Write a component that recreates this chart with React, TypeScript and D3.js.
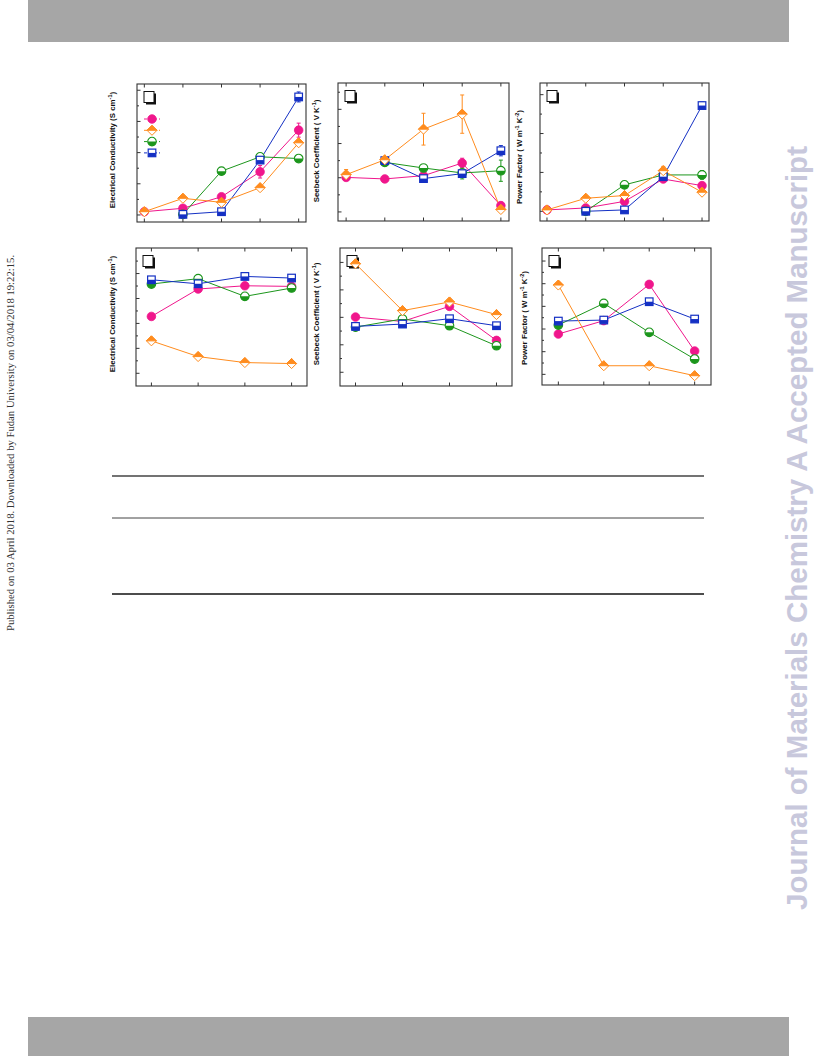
import React from 'react';
import * as d3 from 'd3';

// x categories (labels not printed in the figure)
const topCats = [1, 2, 3, 4, 5];
const bottomCats = [1, 2, 3, 4];

// (a) electrical conductivity, top row
const condTopPink = [0.21, 0.43, 1.17, 2.77, 5.44];
const condTopOrange = [0.21, 1.07, 0.81, 1.75, 4.63];
const condTopGreen = [null, 0.04, 2.81, 3.73, 3.62];
const condTopBlue = [null, 0.04, 0.21, 3.52, 7.57];
const condTopPinkErr = [0, 0, 0, 0.4, 0.45];
const condTopBlueErr = [0, 0, 0, 0.15, 0.32];

// (b) seebeck, top row
const seebTopPink = [2.02, 1.93, 2.12, 2.86, 0.37];
const seebTopOrange = [2.18, 3.05, 4.84, 5.72, 0.14];
const seebTopGreen = [null, 2.9, 2.57, 2.28, 2.41];
const seebTopBlue = [null, 3.0, 1.95, 2.24, 3.58];
const seebTopOrangeErr = [0.3, 0.12, 0.93, 1.12, 0.1];
const seebTopPinkErr = [0, 0, 0, 0.28, 0.2];
const seebTopGreenErr = [0, 0, 0, 0.35, 0.62];
const seebTopBlueErr = [0, 0, 0, 0, 0.3];

// (c) power factor, top row
const pfTopPink = [0.07, 0.17, 0.51, 1.66, 1.32];
const pfTopOrange = [0.07, 0.67, 0.81, 2.09, 0.98];
const pfTopGreen = [null, 0.0, 1.36, 1.87, 1.87];
const pfTopBlue = [null, 0.0, 0.07, 1.78, 5.44];
const pfTopOrangeErr = [0, 0, 0, 0.22, 0.1];
const pfTopGreenErr = [0, 0, 0, 0, 0.22];
const pfTopBlueErr = [0, 0, 0, 0, 0.18];

// (d) electrical conductivity, bottom row
const condBotPink = [4.56, 6.76, 7.02, 6.97];
const condBotOrange = [2.6, 1.34, 0.86, 0.78];
const condBotGreen = [7.16, 7.59, 6.17, 6.84];
const condBotBlue = [7.5, 7.18, 7.77, 7.64];

// (e) seebeck, bottom row
const seebBotPink = [4.02, 3.7, 4.8, 2.32];
const seebBotOrange = [7.9, 4.49, 5.12, 4.2];
const seebBotGreen = [3.29, 3.88, 3.39, 1.93];
const seebBotBlue = [3.34, 3.51, 3.9, 3.39];

// (f) power factor, bottom row
const pfBotPink = [3.56, 4.74, 7.94, 2.06];
const pfBotOrange = [7.88, 0.76, 0.76, -0.12];
const pfBotGreen = [4.35, 6.26, 3.71, 1.35];
const pfBotBlue = [4.7, 4.79, 6.41, 4.88];

const PINK = '#f0168c';
const ORANGE = '#ff8c1e';
const GREEN = '#1c961c';
const BLUE = '#1430c4';

type Val = number | null;
type Series = { vals: Val[]; err?: number[]; color: string; shape: string };

const Marker = ({ shape, color, x, y }: { shape: string; color: string; x: number; y: number }) => {
  if (shape === 'circle') {
    return <circle cx={x} cy={y} r={4.3} fill={color} stroke={color} strokeWidth={0.8} />;
  }
  if (shape === 'diamond') {
    const r = 5;
    return (
      <g transform={`translate(${x},${y})`}>
        <path d={`M0,${-r}L${r},0L0,${r}L${-r},0Z`} fill="#fff" stroke={color} strokeWidth={1} />
        <path d={`M${-r},0L0,${-r}L${r},0Z`} fill={color} stroke={color} strokeWidth={1} />
      </g>
    );
  }
  if (shape === 'halfcircle') {
    const r = 4.3;
    return (
      <g transform={`translate(${x},${y})`}>
        <circle r={r} fill="#fff" stroke={color} strokeWidth={1.1} />
        <path d={`M${-r},0A${r},${r} 0 0 0 ${r},0Z`} fill={color} />
      </g>
    );
  }
  const s = 3.8;
  return (
    <g transform={`translate(${x},${y})`}>
      <rect x={-s} y={-s} width={2 * s} height={2 * s} fill="#fff" stroke={color} strokeWidth={1.2} />
      <rect x={-s} y={0} width={2 * s} height={s} fill={color} />
    </g>
  );
};

type PanelProps = {
  left: number; right: number; top: number; bottom: number;
  cats: number[]; pad: number;
  yDomain: [number, number]; yTicks: number[];
  series: Series[];
  label: React.ReactNode; labelX: number; labelY: number;
  legend?: Series[];
};

const Panel = (p: PanelProps) => {
  const x = d3.scaleLinear().domain([p.cats[0] - p.pad, p.cats[p.cats.length - 1] + p.pad]).range([p.left, p.right]);
  const y = d3.scaleLinear().domain(p.yDomain).range([p.bottom, p.top]);
  const line = d3.line<Val>()
    .defined(d => d !== null)
    .x((_, i) => x(p.cats[i]))
    .y(d => y(d as number));
  return (
    <g>
      {/* y ticks, inward */}
      {p.yTicks.map((t, i) => (
        <line key={'yt' + t} x1={p.left} x2={p.left + (i % 2 === 0 ? 3.5 : 2)} y1={y(t)} y2={y(t)} stroke="#333" strokeWidth={1} />
      ))}
      {/* x ticks top & bottom, inward */}
      {p.cats.map(c => (
        <g key={'xt' + c}>
          <line x1={x(c)} x2={x(c)} y1={p.bottom} y2={p.bottom - 3.5} stroke="#333" strokeWidth={1} />
          <line x1={x(c)} x2={x(c)} y1={p.top} y2={p.top + 3.5} stroke="#333" strokeWidth={1} />
        </g>
      ))}
      <rect x={p.left} y={p.top} width={p.right - p.left} height={p.bottom - p.top} fill="none" stroke="#333" strokeWidth={1.1} />
      {/* panel letter box (letter stripped) */}
      <rect x={p.left + 9} y={p.top + 9.5} width={10} height={11} fill="#111" />
      <rect x={p.left + 7} y={p.top + 7.5} width={10} height={11} fill="#fff" stroke="#111" strokeWidth={1} />
      {p.series.map((s, si) => (
        <path key={'l' + si} d={line(s.vals) ?? ''} fill="none" stroke={s.color} strokeWidth={1} />
      ))}
      {p.series.map((s, si) =>
        s.err ? s.err.map((e, i) => {
          const v = s.vals[i];
          if (!e || v === null) return null;
          const cx = x(p.cats[i]);
          return (
            <g key={'e' + si + '-' + i} stroke={s.color} strokeWidth={1}>
              <line x1={cx} x2={cx} y1={y(v - e)} y2={y(v + e)} />
              <line x1={cx - 2} x2={cx + 2} y1={y(v - e)} y2={y(v - e)} />
              <line x1={cx - 2} x2={cx + 2} y1={y(v + e)} y2={y(v + e)} />
            </g>
          );
        }) : null
      )}
      {p.series.map((s, si) =>
        s.vals.map((v, i) => v === null ? null : (
          <Marker key={'m' + si + '-' + i} shape={s.shape} color={s.color} x={x(p.cats[i])} y={y(v)} />
        ))
      )}
      {p.legend && p.legend.map((s, si) => {
        const ly = p.top + 35 + si * 11.3;
        return (
          <g key={'lg' + si}>
            <line x1={p.left + 7} x2={p.left + 23} y1={ly} y2={ly} stroke={s.color} strokeWidth={1} strokeDasharray="3,2" />
            <Marker shape={s.shape} color={s.color} x={p.left + 15} y={ly} />
          </g>
        );
      })}
      <text transform={`translate(${p.labelX},${p.labelY}) rotate(-90)`} textAnchor="middle"
        fontFamily="Liberation Sans, Arial, sans-serif" fontWeight="bold" fontSize={7.9} fill="#111">
        {p.label}
      </text>
    </g>
  );
};

const sup = (t: string) => <tspan fontSize={5.5} dy={-3}>{t}</tspan>;

const condLabel = <>Electrical Conductivity (S cm{sup('-1')}<tspan dy={3}>)</tspan></>;
const seebLabel = <>Seebeck Coefficient (  V K{sup('-1')}<tspan dy={3}>)</tspan></>;
const pfLabel = <>Power Factor (  W m{sup('-1')}<tspan dy={3}> K</tspan>{sup('-2')}<tspan dy={3}>)</tspan></>;

const mk = (pink: Val[], orange: Val[], green: Val[], blue: Val[], errs: { [k: string]: number[] } = {}): Series[] => [
  { vals: pink, color: PINK, shape: 'circle', err: errs.pink },
  { vals: green, color: GREEN, shape: 'halfcircle', err: errs.green },
  { vals: blue, color: BLUE, shape: 'square', err: errs.blue },
  { vals: orange, color: ORANGE, shape: 'diamond', err: errs.orange },
];

const legendSeries: Series[] = [
  { vals: [], color: PINK, shape: 'circle' },
  { vals: [], color: ORANGE, shape: 'diamond' },
  { vals: [], color: GREEN, shape: 'halfcircle' },
  { vals: [], color: BLUE, shape: 'square' },
];

export default function App() {
  return (
    <svg width={816} height={1056} style={{ position: 'absolute', left: 0, top: 0, background: '#fff' }}>
      <rect x={28} y={0} width={761} height={42} fill="#a6a6a6" />
      <rect x={28} y={1017} width={761} height={39} fill="#a6a6a6" />

      <text transform="translate(14,443) rotate(-90)" textAnchor="middle" fontFamily="Liberation Serif, Times New Roman, serif"
        fontSize={10.7} fill="#333">Published on 03 April 2018. Downloaded by Fudan University on 03/04/2018 19:22:15.</text>
      <text transform="translate(807,528) rotate(-90)" textAnchor="middle" fontFamily="Liberation Sans, Arial, sans-serif"
        fontWeight="bold" fontSize={29.5} fill="#c8c8dc">Journal of Materials Chemistry A Accepted Manuscript</text>

      <Panel left={137} right={306} top={84} bottom={222} cats={topCats} pad={0.19}
        yDomain={[-0.45, 8.4]} yTicks={[0, 1, 2, 3, 4, 5, 6, 7, 8]}
        series={mk(condTopPink, condTopOrange, condTopGreen, condTopBlue, { pink: condTopPinkErr, blue: condTopBlueErr })}
        label={condLabel} labelX={115} labelY={150} legend={legendSeries} />

      <Panel left={338} right={509} top={83} bottom={221} cats={topCats} pad={0.21}
        yDomain={[-0.53, 7.54]} yTicks={[0, 1, 2, 3, 4, 5, 6, 7]}
        series={mk(seebTopPink, seebTopOrange, seebTopGreen, seebTopBlue, { pink: seebTopPinkErr, orange: seebTopOrangeErr, green: seebTopGreenErr, blue: seebTopBlueErr })}
        label={seebLabel} labelX={319} labelY={151} />

      <Panel left={540} right={709} top={83} bottom={221} cats={topCats} pad={0.18}
        yDomain={[-0.5, 6.6]} yTicks={[0, 1, 2, 3, 4, 5, 6]}
        series={mk(pfTopPink, pfTopOrange, pfTopGreen, pfTopBlue, { orange: pfTopOrangeErr, green: pfTopGreenErr, blue: pfTopBlueErr })}
        label={pfLabel} labelX={522} labelY={157} />

      <Panel left={136} right={307} top={248} bottom={386} cats={bottomCats} pad={0.33}
        yDomain={[-1.02, 10.05]} yTicks={[0, 1, 2, 3, 4, 5, 6, 7, 8, 9]}
        series={mk(condBotPink, condBotOrange, condBotGreen, condBotBlue)}
        label={condLabel} labelX={115} labelY={314} />

      <Panel left={340} right={512} top={248} bottom={386} cats={bottomCats} pad={0.33}
        yDomain={[-1.0, 9.05]} yTicks={[0, 1, 2, 3, 4, 5, 6, 7, 8]}
        series={mk(seebBotPink, seebBotOrange, seebBotGreen, seebBotBlue)}
        label={seebLabel} labelX={319} labelY={314} />

      <Panel left={542} right={711} top={248} bottom={385} cats={bottomCats} pad={0.36}
        yDomain={[-0.94, 11.15]} yTicks={[0, 1, 2, 3, 4, 5, 6, 7, 8, 9, 10]}
        series={mk(pfBotPink, pfBotOrange, pfBotGreen, pfBotBlue)}
        label={pfLabel} labelX={527} labelY={318} />

      {/* table rules */}
      <line x1={112} x2={704} y1={476} y2={476} stroke="#444" strokeWidth={1.5} />
      <line x1={112} x2={704} y1={518} y2={518} stroke="#444" strokeWidth={1} />
      <line x1={112} x2={704} y1={594} y2={594} stroke="#111" strokeWidth={1.6} />
    </svg>
  );
}
